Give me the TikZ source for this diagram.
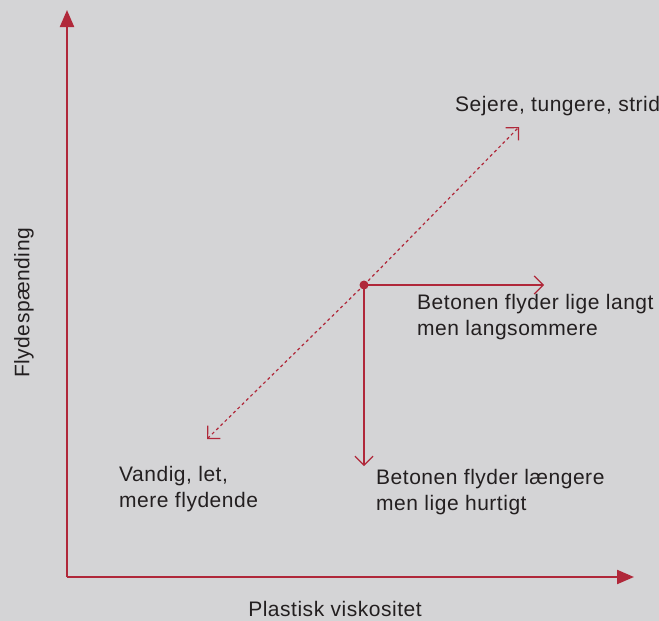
\documentclass[tikz,border=0pt]{standalone}
\usepackage{fontspec}
\setmainfont{Liberation Sans}[LetterSpace=2.5]
\usetikzlibrary{arrows.meta}
\definecolor{bg}{HTML}{D4D4D6}
\definecolor{wine}{HTML}{B0283A}
\definecolor{txt}{HTML}{231F20}
\begin{document}
\begin{tikzpicture}[x=1pt,y=-1pt,
  lbl/.style={font=\fontsize{21}{26}\selectfont, text=txt, align=left, inner sep=0pt},
  axis/.style={draw=wine, line width=2.2pt, -{Triangle[length=17pt,width=14pt]}},
  barb/.style={-{Straight Barb[length=9pt,width=18pt,line width=1.2pt]}},
  thinarr/.style={draw=wine, line width=1.2pt, barb},
  dotline/.style={draw=wine, line width=1.2pt, dash pattern=on 3pt off 3pt, barb},
]
\fill[bg] (0,0) rectangle (659,621);
\useasboundingbox (0,0) rectangle (659,621);
\coordinate (O) at (67,577);
\coordinate (Ytop) at (67,10);
\coordinate (Xend) at (634,577);
\coordinate (P) at (364,285);
\coordinate (NE) at (519,127);
\coordinate (SW) at (207,439);
\coordinate (E) at (544,285);
\coordinate (S) at (364,466);
\draw[axis] (O) -- (Ytop);
\draw[axis] (O) -- (Xend);
\draw[dotline] (P) -- (NE);
\draw[dotline] (P) -- (SW);
\draw[thinarr] (P) -- (E);
\draw[thinarr] (P) -- (S);
\fill[wine] (P) circle (4.5pt);
\node[lbl, anchor=west] (t1) at (455,106) {Sejere, tungere, strid};
\node[lbl, anchor=north west] (t2) at (417,294) {Betonen flyder lige langt\\men langsommere};
\node[lbl, anchor=north west] (t3) at (119,466) {Vandig, let,\\mere flydende};
\node[lbl, anchor=north west] (t4) at (376,469) {Betonen flyder længere\\men lige hurtigt};
\node[lbl, rotate=90] (ty) at (24,303) {Flydespænding};
\node[lbl] (tx) at (335,609) {Plastisk viskositet};
\end{tikzpicture}
\end{document}
